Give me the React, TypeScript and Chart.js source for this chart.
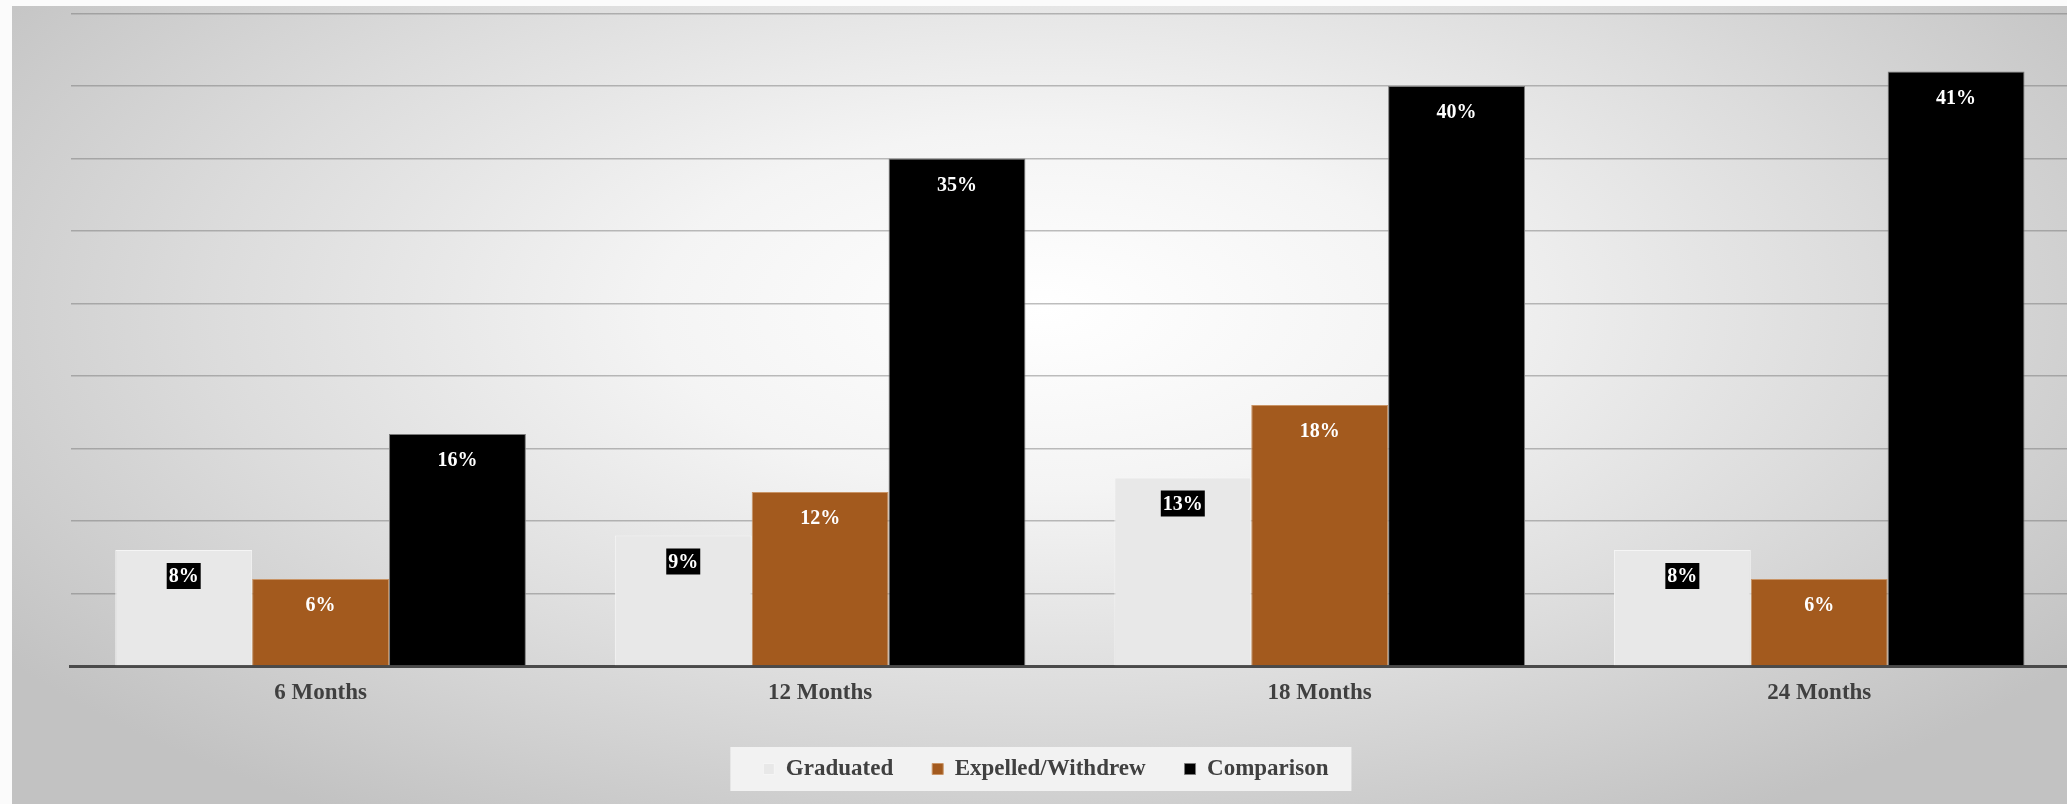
import React, { useEffect, useRef } from "react";
import { Chart, registerables } from "chart.js";

Chart.register(...registerables);

// ---- data ----
const categories = ["6 Months", "12 Months", "18 Months", "24 Months"];
const seriesNames = ["Graduated", "Expelled/Withdrew", "Comparison"];
const graduated = [8, 9, 13, 8];
const expelled = [6, 12, 18, 6];
const comparison = [16, 35, 40, 41];
const yMin = 0;
const yMax = 45;
const yStep = 5;

const FONT = '"Liberation Serif", "DejaVu Serif", serif';
const GRID = "rgba(110,110,110,0.45)";

const barLabels = {
  id: "barLabels",
  afterDatasetsDraw(chart: any) {
    const ctx = chart.ctx;
    ctx.save();
    ctx.font = `bold 20px ${FONT}`;
    ctx.textAlign = "center";
    ctx.textBaseline = "middle";
    chart.data.datasets.forEach((ds: any, di: number) => {
      const meta = chart.getDatasetMeta(di);
      meta.data.forEach((el: any, i: number) => {
        const text = `${ds.data[i]}%`;
        const x = el.x;
        const y = el.y + 26;
        if (di === 0) {
          const w = ctx.measureText(text).width + 4;
          ctx.fillStyle = "#000";
          ctx.fillRect(x - w / 2, y - 13, w, 26);
        }
        ctx.fillStyle = "#ffffff";
        ctx.fillText(text, x, y + 1);
      });
    });
    ctx.restore();
  },
};

const legendTweaks = {
  id: "legendTweaks",
  afterLayout(chart: any) {
    const l = chart.legend;
    if (l) {
      l.left -= 24;
      l.right -= 24;
    }
  },
  beforeDraw(chart: any) {
    const l = chart.legend;
    if (!l || !l.legendHitBoxes || !l.legendHitBoxes.length) return;
    const hb = l.legendHitBoxes;
    const first = hb[0];
    const last = hb[hb.length - 1];
    const cy = first.top + first.height / 2;
    const ctx = chart.ctx;
    ctx.save();
    ctx.fillStyle = "rgba(243,243,243,0.95)";
    ctx.fillRect(first.left - 33, cy - 22, last.left + last.width + 23 - (first.left - 33), 44);
    ctx.restore();
  },
};

export default function App() {
  const ref = useRef<HTMLCanvasElement | null>(null);

  useEffect(() => {
    if (!ref.current) return;
    const chart = new Chart(ref.current, {
      type: "bar",
      data: {
        labels: categories,
        datasets: [
          {
            label: seriesNames[0],
            data: graduated,
            backgroundColor: "#e8e8e8",
            borderColor: "#f5f5f5",
            borderWidth: 1,
          },
          {
            label: seriesNames[1],
            data: expelled,
            backgroundColor: "#a35a1e",
            borderColor: "#c99466",
            borderWidth: 1,
          },
          {
            label: seriesNames[2],
            data: comparison,
            backgroundColor: "#000000",
            borderColor: "#7a7a7a",
            borderWidth: 1,
          },
        ],
      },
      options: {
        responsive: false,
        maintainAspectRatio: false,
        animation: false,
        devicePixelRatio: 1,
        layout: { padding: { left: 58.8, top: 13.5, right: 0, bottom: 13.5 } },
        datasets: {
          bar: { categoryPercentage: 0.822, barPercentage: 1 },
        },
        scales: {
          x: {
            grid: { display: false, drawTicks: false },
            border: { display: true, color: "#4a4a4a", width: 3 },
            ticks: {
              padding: 13,
              color: "#404040",
              font: { family: FONT, size: 23, weight: "bold" },
            },
            afterFit: (s: any) => {
              s.height = 52.5;
            },
          },
          y: {
            min: yMin,
            max: yMax,
            ticks: { display: false, stepSize: yStep },
            border: { display: false },
            grid: {
              drawTicks: false,
              lineWidth: 1.5,
              color: (c: any) => (c.tick && c.tick.value === 0 ? "rgba(0,0,0,0)" : GRID),
            },
            afterFit: (s: any) => {
              s.width = 0;
            },
          },
        },
        plugins: {
          tooltip: { enabled: false },
          legend: {
            position: "bottom",
            labels: {
              boxWidth: 11,
              boxHeight: 11,
              padding: 39,
              color: "#404040",
              font: { family: FONT, size: 23, weight: "bold" },
            },
          },
        },
      },
      plugins: [barLabels, legendTweaks],
    } as any);
    return () => chart.destroy();
  }, []);

  return (
    <div
      style={{
        position: "fixed",
        left: 0,
        top: 0,
        width: 2067,
        height: 804,
        overflow: "hidden",
        background: "#fbfbfb",
      }}
    >
      <div
        style={{
          position: "absolute",
          left: 12,
          top: 6,
          width: 2060,
          height: 800,
          background:
            "radial-gradient(ellipse 62% 75% at 50% 38%, #ffffff 0%, #f4f4f4 30%, #dcdcdc 65%, #c2c2c2 100%)",
        }}
      />
      <canvas
        ref={ref}
        width={2057}
        height={804}
        style={{ position: "absolute", left: 12, top: 0, width: 2057, height: 804 }}
      />
    </div>
  );
}
